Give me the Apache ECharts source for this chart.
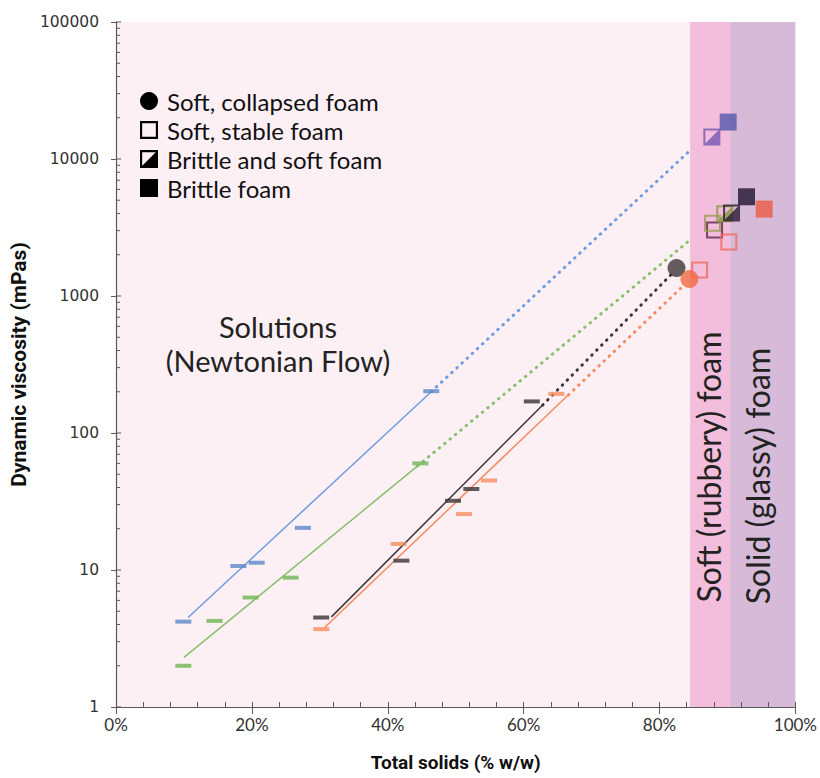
<!DOCTYPE html>
<html><head><meta charset="utf-8">
<script src="https://cdn.jsdelivr.net/npm/echarts@6/dist/echarts.min.js"></script>
<style>html,body{margin:0;padding:0;background:#fff}#c{width:820px;height:778px}</style>
</head><body><div id="c"></div>
<script>
// ---- axis ticks ----
const xTickValues = [0, 20, 40, 60, 80, 100];
const xTickLabels = ['0%', '20%', '40%', '60%', '80%', '100%'];
const yTickValues = [1, 10, 100, 1000, 10000, 100000];
const yTickLabels = ['1', '10', '100', '1000', '10000', '100000'];

// ---- background regions (% total solids) ----
const regionStart = [0, 84.5, 90.4];
const regionEnd = [84.5, 90.4, 100];
const regionLabels = ['Solutions\n(Newtonian Flow)', 'Soft (rubbery) foam', 'Solid (glassy) foam'];

// ---- measured solutions (dash markers) ----
const blueDashX = [9.9, 18.0, 20.7, 27.5, 46.4];
const blueDashY = [4.2, 10.7, 11.3, 20.3, 202];
const greenDashX = [9.9, 14.5, 19.8, 25.7, 44.8];
const greenDashY = [2.0, 4.25, 6.3, 8.8, 60];
const darkDashX = [30.2, 42.0, 49.6, 52.3, 61.2];
const darkDashY = [4.5, 11.7, 32, 39, 170];
const orangeDashX = [30.2, 41.6, 51.2, 54.9, 64.8];
const orangeDashY = [3.7, 15.5, 25.6, 45, 193];

// ---- trend lines: [start, end of solid fit, end of dotted extrapolation] ----
const blueFitX = [10.6, 46.4, 84.2];
const blueFitY = [4.5, 200, 11200];
const greenFitX = [10.0, 44.4, 84.1];
const greenFitY = [2.3, 57.5, 2470];
const darkFitX = [31.7, 62.8, 81.8];
const darkFitY = [4.55, 160, 1450];
const orangeFitX = [30.7, 66.6, 83.6];
const orangeFitY = [3.8, 190, 1200];

// ---- foams ----
const blueBrittle = [[90.1, 18600]];
const blueBrittleSoft = [[87.7, 14500]];
const darkBrittle = [[92.8, 5300]];
const darkBrittleSoft = [[90.6, 4040]];
const darkStable = [[88.1, 3030]];
const darkCollapsed = [[82.5, 1600]];
const greenBrittleSoft = [[89.6, 3980]];
const greenStable = [[87.8, 3400]];
const orangeBrittle = [[95.4, 4310]];
const orangeStable = [[90.2, 2480], [85.9, 1550]];
const orangeCollapsed = [[84.4, 1330]];

const legendNames = ['Soft, collapsed foam', 'Soft, stable foam', 'Brittle and soft foam', 'Brittle foam'];

// ---- styling ----
const AX = '#595959';
const HOLLOW = 'path://M0,0H20V20H0Z M2.4,2.4V17.6H17.6V2.4Z';
const HALF = 'path://M0,0H20V20H0Z M2.4,2.4V17.6H17.6V2.4Z M20,0V20H0Z';
const SHAPES = {collapsed: 'circle', stable: HOLLOW, half: HALF, brittle: 'rect'};
const LEGEND_SHAPES = [SHAPES.collapsed, SHAPES.stable, SHAPES.half, SHAPES.brittle];

const zip = (xs, ys) => xs.map((x, i) => [x, ys[i]]);

function dashSeries(xs, ys, color) {
  return {type: 'scatter', data: zip(xs, ys), symbol: 'rect', symbolSize: [16, 4],
    itemStyle: {color: color}, z: 4, silent: true};
}
function fitSeries(xs, ys, color) {
  const pts = zip(xs, ys);
  return [
    {type: 'line', data: pts.slice(0, 2), showSymbol: false, symbol: 'none', silent: true, z: 3,
      lineStyle: {color: color, width: 1.5}},
    {type: 'line', data: pts.slice(1, 3), showSymbol: false, symbol: 'none', silent: true, z: 3,
      lineStyle: {color: color, width: 3, type: [0.5, 6.5], cap: 'round'}}
  ];
}
function foamSeries(data, shape, color, size) {
  return {type: 'scatter', data: data, symbol: SHAPES[shape], symbolSize: size || 17, symbolKeepAspect: true,
    itemStyle: {color: color}, z: 5, silent: true};
}

const minorTickData = [];
yTickValues.forEach((v, i) => {
  minorTickData.push([0, v, 5]);
  if (i < yTickValues.length - 1) {
    for (let m = 2; m <= 9; m++) minorTickData.push([0, v * m, 4]);
  }
});

const bandColors = ['#fcf0f5', '#f3bedb', '#d6bad8'];

const series = [
  {type: 'scatter', data: [], silent: true, z: 1,
    markArea: {silent: true, data: regionStart.map((s, i) => [
      {xAxis: s, yAxis: 1, itemStyle: {color: bandColors[i]}},
      {xAxis: regionEnd[i], yAxis: 100000}
    ])}},
  {type: 'custom', data: minorTickData, silent: true, clip: false, z: 6,
    renderItem: (p, api) => {
      const pt = api.coord([0, api.value(1)]);
      return {type: 'line', shape: {x1: pt[0], y1: pt[1], x2: pt[0] + api.value(2), y2: pt[1]},
        style: {stroke: AX, lineWidth: 1}};
    }},
  ...fitSeries(blueFitX, blueFitY, '#6f9be0'),
  ...fitSeries(greenFitX, greenFitY, '#86c06a'),
  ...fitSeries(darkFitX, darkFitY, '#3c3438'),
  ...fitSeries(orangeFitX, orangeFitY, '#f48a5e'),
  dashSeries(blueDashX, blueDashY, '#5b87c9'),
  dashSeries(greenDashX, greenDashY, '#6fb553'),
  dashSeries(darkDashX, darkDashY, '#3a3236'),
  dashSeries(orangeDashX, orangeDashY, '#f58f5f'),
  foamSeries(blueBrittleSoft, 'half', '#7358b2'),
  foamSeries(blueBrittle, 'brittle', '#5558ac'),
  foamSeries(darkStable, 'stable', '#5e2850'),
  foamSeries(greenStable, 'stable', '#9a9c50'),
  foamSeries(greenBrittleSoft, 'half', '#86973f'),
  foamSeries(darkBrittleSoft, 'half', '#2a1a36'),
  foamSeries(darkBrittle, 'brittle', '#1e1430'),
  foamSeries(orangeStable, 'stable', '#ef6c5c'),
  foamSeries(orangeBrittle, 'brittle', '#e85a45'),
  foamSeries(darkCollapsed, 'collapsed', '#3e3638', 18),
  foamSeries(orangeCollapsed, 'collapsed', '#ef6a42', 18),
  ...legendNames.map((n, i) => ({type: 'scatter', name: n, data: [],
    symbol: LEGEND_SHAPES[i], itemStyle: {color: '#000000', opacity: 1}}))
];

const chart = echarts.init(document.getElementById('c'), null, {renderer: 'svg'});
chart.setOption({
  animation: false,
  backgroundColor: '#ffffff',
  grid: {left: 110, right: 24, top: 22, bottom: 71, containLabel: false},
  legend: {
    orient: 'vertical', left: 135, top: 84, itemWidth: 18, itemHeight: 18, itemGap: 5,
    selectedMode: false,
    itemStyle: {color: '#000000', opacity: 1},
    textStyle: {fontSize: 24, lineHeight: 24, color: '#111', fontFamily: 'Lato', padding: [0, 0, 0, 4]},
    data: legendNames.map((n, i) => ({name: n, icon: LEGEND_SHAPES[i]}))
  },
  xAxis: [{
    type: 'value', min: 0, max: 100, interval: 20, z: 5,
    name: 'Total solids (% w/w)', nameLocation: 'middle', nameGap: 46,
    nameTextStyle: {fontSize: 19, fontWeight: 'bold', color: '#111', fontFamily: 'Roboto'},
    axisLine: {lineStyle: {color: AX, width: 1.2}},
    axisTick: {inside: true, length: 5, lineStyle: {color: AX}},
    minorTick: {show: true, splitNumber: 5, length: 5, lineStyle: {color: AX}},
    splitLine: {show: false},
    axisLabel: {margin: 9, fontSize: 17, color: '#333', fontFamily: 'Lato',
      formatter: v => xTickLabels[xTickValues.indexOf(v)]}
  }, {
    type: 'value', min: 0, max: 100, interval: 20, position: 'bottom', offset: 0, z: 5,
    axisLine: {show: false}, axisTick: {show: true, length: 7, lineStyle: {color: AX}},
    axisLabel: {show: false}, splitLine: {show: false}
  }],
  yAxis: {
    type: 'log', logBase: 10, min: 1, max: 100000, z: 5,
    name: 'Dynamic viscosity (mPas)', nameLocation: 'middle', nameGap: 80,
    nameTextStyle: {fontSize: 21, fontWeight: 'bold', color: '#111', fontFamily: 'Roboto'},
    axisLine: {show: true, lineStyle: {color: AX, width: 1.2}},
    axisTick: {show: true, length: 5, lineStyle: {color: AX}},
    splitLine: {show: false},
    axisLabel: {margin: 17, fontSize: 15.5, color: '#333', fontFamily: 'DejaVu Sans',
      formatter: v => yTickLabels[yTickValues.indexOf(Math.round(v))]}
  },
  graphic: [
    {type: 'text', x: 278, y: 343, z: 10, silent: true,
      style: {text: regionLabels[0], fontSize: 29, fontFamily: 'Lato', fill: '#222',
        align: 'center', verticalAlign: 'middle', lineHeight: 34}},
    {type: 'text', x: 708, y: 467, rotation: Math.PI / 2, z: 10, silent: true,
      style: {text: regionLabels[1], fontSize: 32, fontFamily: 'Lato', fill: '#222',
        align: 'center', verticalAlign: 'middle'}},
    {type: 'text', x: 757, y: 476, rotation: Math.PI / 2, z: 10, silent: true,
      style: {text: regionLabels[2], fontSize: 32, fontFamily: 'Lato', fill: '#222',
        align: 'center', verticalAlign: 'middle'}}
  ],
  series: series
});
</script></body></html>
